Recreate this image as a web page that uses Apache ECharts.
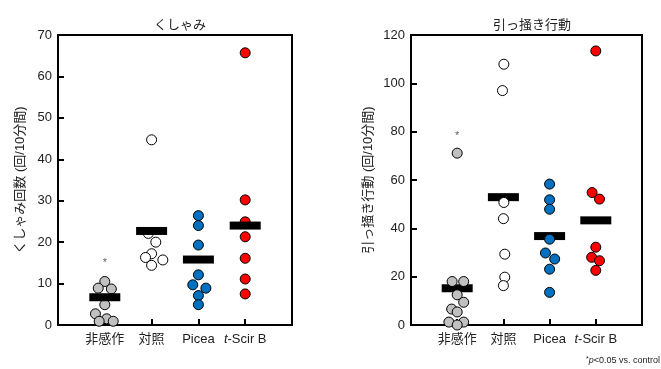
<!DOCTYPE html>
<html><head><meta charset="utf-8">
<script src="https://cdn.jsdelivr.net/npm/echarts@6/dist/echarts.min.js"></script>
<style>html,body{margin:0;padding:0;background:#fff}#c{width:661px;height:369px}</style>
</head><body><div id="c"></div>
<script>
// ---- data ----
const categories = ['非感作', '対照', 'Picea', 't-Scir B'];
const groupColors = ['#c0c0c0', '#ffffff', '#0070c0', '#ff0000'];

// Chart 1: くしゃみ (sneezes / 10 min)
const sneezeTitle = 'くしゃみ';
const sneezeAxisName = 'くしゃみ回数 (回/10分間)';
const sneezeTicks = [0, 10, 20, 30, 40, 50, 60, 70];
const sneezeValues = [
  [10.5, 8.9, 8.7, 4.9, 2.7, 1.5, 0.9, 0.9],
  [44.7, 22.1, 20.0, 17.2, 16.3, 15.7, 14.4],
  [26.4, 24.0, 19.3, 12.1, 9.7, 8.9, 7.1, 4.9],
  [65.7, 30.2, 24.9, 21.3, 16.1, 11.1, 7.5]
];
const sneezeJitter = [
  [0, -0.14, 0.14, 0, -0.2, 0.04, -0.12, 0.18],
  [0, -0.07, 0.09, 0, -0.13, 0.24, 0],
  [0, 0, 0, 0, -0.12, 0.16, 0, 0],
  [0, 0, 0, 0, 0, 0, 0]
];
const sneezeMeans = [6.7, 22.7, 15.8, 24.0];
const sneezeStar = [14.9, null, null, null];

// Chart 2: 引っ掻き行動 (scratching / 10 min)
const scratchTitle = '引っ掻き行動';
const scratchAxisName = '引っ掻き行動 (回/10分間)';
const scratchTicks = [0, 20, 40, 60, 80, 100, 120];
const scratchValues = [
  [71.1, 18.0, 18.0, 12.5, 9.4, 6.6, 5.4, 1.2, 1.2, 0],
  [107.9, 97.0, 50.7, 44.0, 29.3, 19.8, 16.3],
  [58.3, 51.8, 47.9, 35.5, 29.8, 27.3, 23.1, 13.5],
  [113.4, 54.8, 52.1, 32.2, 28.0, 26.6, 22.6]
];
const scratchJitter = [
  [0, -0.11, 0.14, 0, 0.14, -0.12, 0, -0.18, 0.14, 0],
  [0.01, -0.02, 0.01, 0, 0.03, 0.03, 0],
  [0, 0, 0, 0, -0.09, 0.11, 0, 0],
  [0, -0.08, 0.08, 0, -0.09, 0.08, 0]
];
const scratchMeans = [15.2, 52.9, 36.8, 43.3];
const scratchStar = [78.3, null, null, null];

const footnote = 'p<0.05 vs. control';

// ---- chart ----
const FONT = '"Liberation Sans", "Noto Sans CJK JP", sans-serif';
const TXT = '#222';
const chart = echarts.init(document.getElementById('c'));

function xAxisFor(gi) {
  return {
    type: 'value', gridIndex: gi, min: 0, max: categories.length + 1, interval: 1,
    splitLine: { show: false },
    axisLine: { lineStyle: { color: '#000', width: 2 } },
    axisTick: { inside: true, length: 6, lineStyle: { color: '#000', width: 2 } },
    axisLabel: {
      margin: 8, fontSize: 13, color: TXT, fontFamily: FONT,
      formatter: v => {
        const c = categories[v - 1];
        if (!c) return '';
        return c.startsWith('t-') ? '{i|t}-' + c.slice(2) : c;
      },
      rich: { i: { fontStyle: 'italic', fontSize: 13, color: TXT, fontFamily: FONT } }
    }
  };
}
function yAxisFor(gi, ticks, name, gap) {
  return {
    type: 'value', gridIndex: gi, min: ticks[0], max: ticks[ticks.length - 1],
    interval: ticks[1] - ticks[0],
    name: name, nameLocation: 'middle', nameGap: gap, nameRotate: 90,
    nameTextStyle: { fontSize: 13, color: TXT, fontFamily: FONT },
    splitLine: { show: false },
    axisLine: { lineStyle: { color: '#000', width: 2 } },
    axisTick: { inside: true, length: 6, lineStyle: { color: '#000', width: 2 } },
    axisLabel: { margin: 6, fontSize: 13, color: TXT, fontFamily: FONT }
  };
}
function seriesFor(gi, values, jitter, means, stars, pointsOnTop) {
  const out = [];
  values.forEach((vals, k) => {
    out.push({
      type: 'scatter', xAxisIndex: gi, yAxisIndex: gi, symbol: 'circle', symbolSize: 10,
      z: pointsOnTop ? 5 : 2, clip: false,
      itemStyle: { color: groupColors[k], borderColor: '#000', borderWidth: 1, opacity: 1 },
      data: vals.map((v, j) => [k + 1 + jitter[k][j], v])
    });
  });
  out.push({
    type: 'scatter', xAxisIndex: gi, yAxisIndex: gi, symbol: 'rect', symbolSize: [31, 8],
    z: pointsOnTop ? 3 : 4,
    itemStyle: { color: '#000', opacity: 1 },
    data: means.map((m, k) => [k + 1, m])
  });
  out.push({
    type: 'scatter', xAxisIndex: gi, yAxisIndex: gi, symbolSize: 0, z: 6,
    label: { show: true, formatter: '*', position: 'inside', fontSize: 11, color: '#333', fontFamily: FONT },
    data: stars.map((s, k) => s == null ? null : [k + 1, s]).filter(d => d)
  });
  return out;
}

chart.setOption({
  animation: false,
  backgroundColor: '#fff',
  title: [
    { text: sneezeTitle, left: 175, top: 14, textAlign: 'center',
      textStyle: { fontSize: 13, fontWeight: 'normal', color: TXT, fontFamily: FONT } },
    { text: scratchTitle, left: 527, top: 14, textAlign: 'center',
      textStyle: { fontSize: 13, fontWeight: 'normal', color: TXT, fontFamily: FONT } }
  ],
  grid: [
    { left: 58, right: 369, top: 35, bottom: 44, show: true, borderColor: '#000', borderWidth: 2, backgroundColor: 'transparent' },
    { left: 411, right: 19, top: 35, bottom: 44, show: true, borderColor: '#000', borderWidth: 2, backgroundColor: 'transparent' }
  ],
  xAxis: [xAxisFor(0), xAxisFor(1)],
  yAxis: [yAxisFor(0, sneezeTicks, sneezeAxisName, 31), yAxisFor(1, scratchTicks, scratchAxisName, 36)],
  series: [].concat(
    seriesFor(0, sneezeValues, sneezeJitter, sneezeMeans, sneezeStar, false),
    seriesFor(1, scratchValues, scratchJitter, scratchMeans, scratchStar, true)
  ),
  graphic: [{
    type: 'text', left: 586, top: 356,
    style: {
      text: '{s|*}{i|p}' + footnote.slice(1),
      fill: TXT, font: '9px ' + FONT,
      rich: {
        s: { fontSize: 7, verticalAlign: 'top', fill: TXT },
        i: { fontStyle: 'italic', fontSize: 9, fill: TXT }
      }
    }
  }]
});
</script></body></html>
